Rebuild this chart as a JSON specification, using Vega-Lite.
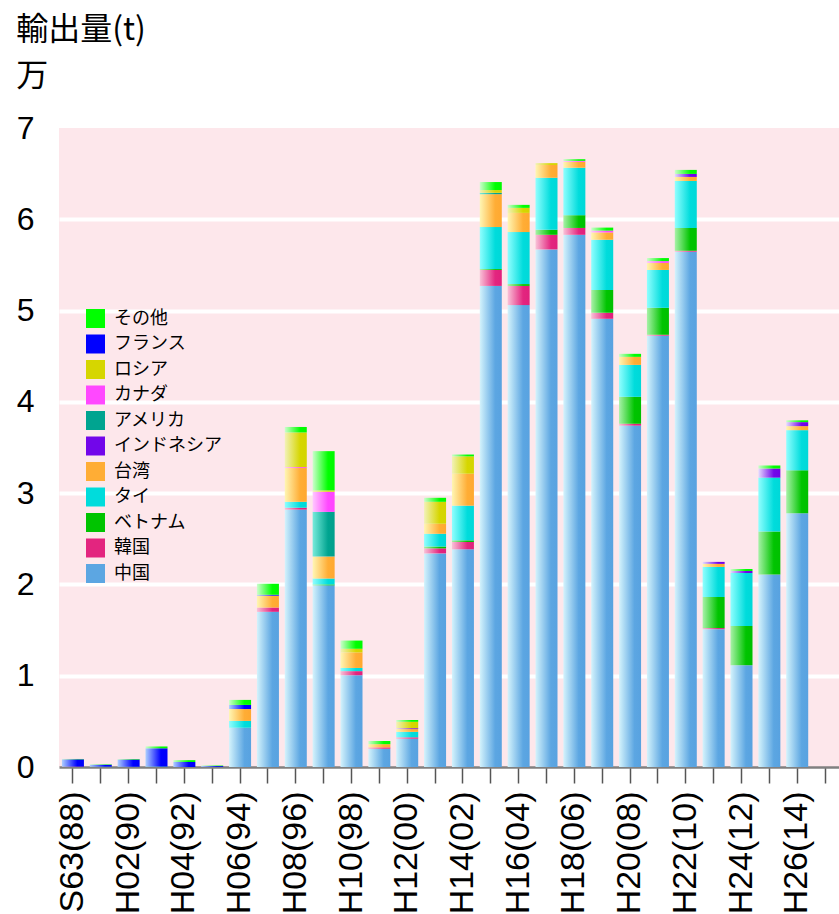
{
  "$schema": "https://vega.github.io/schema/vega-lite/v6.json",
  "width": 780,
  "height": 639,
  "autosize": "none",
  "padding": {"left": 59, "top": 128, "right": 0, "bottom": 147},
  "background": "white",
  "config": {
    "view": {"fill": "#fde7eb", "stroke": null},
    "font": "Liberation Sans"
  },
  "title": {
    "text": ["輸出量(t)", "万"],
    "anchor": "start",
    "frame": "bounds",
    "font": "Noto Sans CJK JP",
    "fontSize": 32,
    "fontWeight": "normal",
    "lineHeight": 46,
    "color": "black",
    "offset": 19
  },
  "datasets": {
    "countries": [
      {"country": "中国", "rank": 0},
      {"country": "韓国", "rank": 1},
      {"country": "ベトナム", "rank": 2},
      {"country": "タイ", "rank": 3},
      {"country": "台湾", "rank": 4},
      {"country": "インドネシア", "rank": 5},
      {"country": "アメリカ", "rank": 6},
      {"country": "カナダ", "rank": 7},
      {"country": "ロシア", "rank": 8},
      {"country": "フランス", "rank": 9},
      {"country": "その他", "rank": 10}
    ],
    "exports": [
      {"year": "S63(88)", "country": "韓国", "value": 0.004},
      {"year": "S63(88)", "country": "フランス", "value": 0.08},
      {"year": "S63(88)", "country": "その他", "value": 0.004},
      {"year": "H01(89)", "country": "タイ", "value": 0.004},
      {"year": "H01(89)", "country": "フランス", "value": 0.02},
      {"year": "H01(89)", "country": "その他", "value": 0.005},
      {"year": "H02(90)", "country": "タイ", "value": 0.003},
      {"year": "H02(90)", "country": "フランス", "value": 0.08},
      {"year": "H02(90)", "country": "その他", "value": 0.005},
      {"year": "H03(91)", "country": "タイ", "value": 0.005},
      {"year": "H03(91)", "country": "フランス", "value": 0.2},
      {"year": "H03(91)", "country": "その他", "value": 0.02},
      {"year": "H04(92)", "country": "フランス", "value": 0.055},
      {"year": "H04(92)", "country": "その他", "value": 0.02},
      {"year": "H05(93)", "country": "フランス", "value": 0.01},
      {"year": "H05(93)", "country": "その他", "value": 0.006},
      {"year": "H06(94)", "country": "中国", "value": 0.43},
      {"year": "H06(94)", "country": "タイ", "value": 0.075},
      {"year": "H06(94)", "country": "台湾", "value": 0.13},
      {"year": "H06(94)", "country": "フランス", "value": 0.045},
      {"year": "H06(94)", "country": "その他", "value": 0.055},
      {"year": "H07(95)", "country": "中国", "value": 1.7},
      {"year": "H07(95)", "country": "韓国", "value": 0.047},
      {"year": "H07(95)", "country": "台湾", "value": 0.13},
      {"year": "H07(95)", "country": "フランス", "value": 0.01},
      {"year": "H07(95)", "country": "その他", "value": 0.12},
      {"year": "H08(96)", "country": "中国", "value": 2.82},
      {"year": "H08(96)", "country": "韓国", "value": 0.02},
      {"year": "H08(96)", "country": "タイ", "value": 0.065},
      {"year": "H08(96)", "country": "台湾", "value": 0.37},
      {"year": "H08(96)", "country": "カナダ", "value": 0.01},
      {"year": "H08(96)", "country": "ロシア", "value": 0.38},
      {"year": "H08(96)", "country": "その他", "value": 0.06},
      {"year": "H09(97)", "country": "中国", "value": 1.99},
      {"year": "H09(97)", "country": "ベトナム", "value": 0.01},
      {"year": "H09(97)", "country": "タイ", "value": 0.065},
      {"year": "H09(97)", "country": "台湾", "value": 0.24},
      {"year": "H09(97)", "country": "アメリカ", "value": 0.49},
      {"year": "H09(97)", "country": "カナダ", "value": 0.22},
      {"year": "H09(97)", "country": "ロシア", "value": 0.015},
      {"year": "H09(97)", "country": "その他", "value": 0.43},
      {"year": "H10(98)", "country": "中国", "value": 1.005},
      {"year": "H10(98)", "country": "韓国", "value": 0.045},
      {"year": "H10(98)", "country": "タイ", "value": 0.035},
      {"year": "H10(98)", "country": "台湾", "value": 0.17},
      {"year": "H10(98)", "country": "ロシア", "value": 0.04},
      {"year": "H10(98)", "country": "その他", "value": 0.09},
      {"year": "H11(99)", "country": "中国", "value": 0.2},
      {"year": "H11(99)", "country": "韓国", "value": 0.015},
      {"year": "H11(99)", "country": "台湾", "value": 0.035},
      {"year": "H11(99)", "country": "その他", "value": 0.035},
      {"year": "H12(00)", "country": "中国", "value": 0.31},
      {"year": "H12(00)", "country": "韓国", "value": 0.015},
      {"year": "H12(00)", "country": "タイ", "value": 0.06},
      {"year": "H12(00)", "country": "台湾", "value": 0.03},
      {"year": "H12(00)", "country": "インドネシア", "value": 0.01},
      {"year": "H12(00)", "country": "ロシア", "value": 0.07},
      {"year": "H12(00)", "country": "その他", "value": 0.02},
      {"year": "H13(01)", "country": "中国", "value": 2.34},
      {"year": "H13(01)", "country": "韓国", "value": 0.055},
      {"year": "H13(01)", "country": "ベトナム", "value": 0.02},
      {"year": "H13(01)", "country": "タイ", "value": 0.14},
      {"year": "H13(01)", "country": "台湾", "value": 0.11},
      {"year": "H13(01)", "country": "ロシア", "value": 0.24},
      {"year": "H13(01)", "country": "その他", "value": 0.044},
      {"year": "H14(02)", "country": "中国", "value": 2.385},
      {"year": "H14(02)", "country": "韓国", "value": 0.08},
      {"year": "H14(02)", "country": "ベトナム", "value": 0.018},
      {"year": "H14(02)", "country": "タイ", "value": 0.38},
      {"year": "H14(02)", "country": "台湾", "value": 0.35},
      {"year": "H14(02)", "country": "ロシア", "value": 0.19},
      {"year": "H14(02)", "country": "その他", "value": 0.02},
      {"year": "H15(03)", "country": "中国", "value": 5.27},
      {"year": "H15(03)", "country": "韓国", "value": 0.175},
      {"year": "H15(03)", "country": "ベトナム", "value": 0.01},
      {"year": "H15(03)", "country": "タイ", "value": 0.46},
      {"year": "H15(03)", "country": "台湾", "value": 0.36},
      {"year": "H15(03)", "country": "アメリカ", "value": 0.015},
      {"year": "H15(03)", "country": "ロシア", "value": 0.03},
      {"year": "H15(03)", "country": "その他", "value": 0.088},
      {"year": "H16(04)", "country": "中国", "value": 5.06},
      {"year": "H16(04)", "country": "韓国", "value": 0.21},
      {"year": "H16(04)", "country": "ベトナム", "value": 0.02},
      {"year": "H16(04)", "country": "タイ", "value": 0.57},
      {"year": "H16(04)", "country": "台湾", "value": 0.21},
      {"year": "H16(04)", "country": "ロシア", "value": 0.055},
      {"year": "H16(04)", "country": "その他", "value": 0.033},
      {"year": "H17(05)", "country": "中国", "value": 5.67},
      {"year": "H17(05)", "country": "韓国", "value": 0.16},
      {"year": "H17(05)", "country": "ベトナム", "value": 0.055},
      {"year": "H17(05)", "country": "タイ", "value": 0.57},
      {"year": "H17(05)", "country": "台湾", "value": 0.14},
      {"year": "H17(05)", "country": "ロシア", "value": 0.02},
      {"year": "H18(06)", "country": "中国", "value": 5.83},
      {"year": "H18(06)", "country": "韓国", "value": 0.075},
      {"year": "H18(06)", "country": "ベトナム", "value": 0.14},
      {"year": "H18(06)", "country": "タイ", "value": 0.52},
      {"year": "H18(06)", "country": "台湾", "value": 0.065},
      {"year": "H18(06)", "country": "カナダ", "value": 0.01},
      {"year": "H18(06)", "country": "その他", "value": 0.018},
      {"year": "H19(07)", "country": "中国", "value": 4.91},
      {"year": "H19(07)", "country": "韓国", "value": 0.066},
      {"year": "H19(07)", "country": "ベトナム", "value": 0.25},
      {"year": "H19(07)", "country": "タイ", "value": 0.55},
      {"year": "H19(07)", "country": "台湾", "value": 0.08},
      {"year": "H19(07)", "country": "カナダ", "value": 0.02},
      {"year": "H19(07)", "country": "その他", "value": 0.033},
      {"year": "H20(08)", "country": "中国", "value": 3.74},
      {"year": "H20(08)", "country": "韓国", "value": 0.02},
      {"year": "H20(08)", "country": "ベトナム", "value": 0.295},
      {"year": "H20(08)", "country": "タイ", "value": 0.35},
      {"year": "H20(08)", "country": "台湾", "value": 0.088},
      {"year": "H20(08)", "country": "その他", "value": 0.033},
      {"year": "H21(09)", "country": "中国", "value": 4.725},
      {"year": "H21(09)", "country": "韓国", "value": 0.01},
      {"year": "H21(09)", "country": "ベトナム", "value": 0.295},
      {"year": "H21(09)", "country": "タイ", "value": 0.415},
      {"year": "H21(09)", "country": "台湾", "value": 0.077},
      {"year": "H21(09)", "country": "カナダ", "value": 0.02},
      {"year": "H21(09)", "country": "その他", "value": 0.033},
      {"year": "H22(10)", "country": "中国", "value": 5.645},
      {"year": "H22(10)", "country": "韓国", "value": 0.01},
      {"year": "H22(10)", "country": "ベトナム", "value": 0.25},
      {"year": "H22(10)", "country": "タイ", "value": 0.515},
      {"year": "H22(10)", "country": "台湾", "value": 0.044},
      {"year": "H22(10)", "country": "インドネシア", "value": 0.033},
      {"year": "H22(10)", "country": "その他", "value": 0.044},
      {"year": "H23(11)", "country": "中国", "value": 1.51},
      {"year": "H23(11)", "country": "韓国", "value": 0.012},
      {"year": "H23(11)", "country": "ベトナム", "value": 0.34},
      {"year": "H23(11)", "country": "タイ", "value": 0.33},
      {"year": "H23(11)", "country": "台湾", "value": 0.033},
      {"year": "H23(11)", "country": "インドネシア", "value": 0.022},
      {"year": "H24(12)", "country": "中国", "value": 1.115},
      {"year": "H24(12)", "country": "ベトナム", "value": 0.43},
      {"year": "H24(12)", "country": "タイ", "value": 0.58},
      {"year": "H24(12)", "country": "インドネシア", "value": 0.022},
      {"year": "H24(12)", "country": "その他", "value": 0.022},
      {"year": "H25(13)", "country": "中国", "value": 2.11},
      {"year": "H25(13)", "country": "ベトナム", "value": 0.47},
      {"year": "H25(13)", "country": "タイ", "value": 0.59},
      {"year": "H25(13)", "country": "インドネシア", "value": 0.1},
      {"year": "H25(13)", "country": "その他", "value": 0.033},
      {"year": "H26(14)", "country": "中国", "value": 2.78},
      {"year": "H26(14)", "country": "ベトナム", "value": 0.47},
      {"year": "H26(14)", "country": "タイ", "value": 0.44},
      {"year": "H26(14)", "country": "台湾", "value": 0.044},
      {"year": "H26(14)", "country": "インドネシア", "value": 0.044},
      {"year": "H26(14)", "country": "その他", "value": 0.02}
    ]
  },
  "data": {"name": "exports"},
  "transform": [
    {"lookup": "country", "from": {"data": {"name": "countries"}, "key": "country", "fields": ["rank"]}}
  ],
  "mark": {"type": "bar"},
  "encoding": {
    "x": {
      "field": "year",
      "type": "nominal",
      "sort": null,
      "scale": {
        "domain": ["S63(88)","H01(89)","H02(90)","H03(91)","H04(92)","H05(93)","H06(94)","H07(95)","H08(96)","H09(97)","H10(98)","H11(99)","H12(00)","H13(01)","H14(02)","H15(03)","H16(04)","H17(05)","H18(06)","H19(07)","H20(08)","H21(09)","H22(10)","H23(11)","H24(12)","H25(13)","H26(14)","H27(15)"],
        "paddingInner": 0.21,
        "paddingOuter": 0.105
      },
      "axis": {
        "title": null,
        "labelExpr": "indexof('13579', slice(datum.label, 5, 6)) >= 0 ? '' : datum.label",
        "labelAngle": 270,
        "labelFontSize": 34,
        "labelFont": "Liberation Sans",
        "labelColor": "black",
        "labelPadding": 8,
        "labelOverlap": false,
        "domainColor": "#808080",
        "domainWidth": 2.5,
        "tickColor": "#555555",
        "tickWidth": 1.5,
        "tickSize": 16,
        "grid": false
      }
    },
    "y": {
      "field": "value",
      "type": "quantitative",
      "stack": "zero",
      "scale": {"domain": [0, 7], "nice": false},
      "axis": {
        "title": null,
        "values": [0, 1, 2, 3, 4, 5, 6, 7],
        "labelFontSize": 32,
        "labelFont": "Liberation Sans",
        "labelColor": "black",
        "labelPadding": 25,
        "domain": false,
        "ticks": false,
        "grid": true,
        "gridColor": {"condition": {"test": "datum.value === 7 || datum.value === 0", "value": "transparent"}, "value": "white"},
        "gridWidth": 4,
        "gridOpacity": 1
      }
    },
    "order": {"field": "rank", "type": "quantitative", "sort": "ascending"},
    "color": {
      "field": "country",
      "type": "nominal",
      "condition": [
        {"test": "datum.country === '中国'", "value": {"gradient": "linear", "x1": 0, "y1": 0, "x2": 1, "y2": 0, "stops": [{"offset": 0, "color": "#d4f3fc"}, {"offset": 0.7, "color": "#5ca6e2"}, {"offset": 1, "color": "#58a2e0"}]}},
        {"test": "datum.country === '韓国'", "value": {"gradient": "linear", "x1": 0, "y1": 0, "x2": 1, "y2": 0, "stops": [{"offset": 0, "color": "#f9c2d8"}, {"offset": 0.7, "color": "#e3257f"}, {"offset": 1, "color": "#e0207c"}]}},
        {"test": "datum.country === 'ベトナム'", "value": {"gradient": "linear", "x1": 0, "y1": 0, "x2": 1, "y2": 0, "stops": [{"offset": 0, "color": "#a8f2a8"}, {"offset": 0.7, "color": "#00c400"}, {"offset": 1, "color": "#00c000"}]}},
        {"test": "datum.country === 'タイ'", "value": {"gradient": "linear", "x1": 0, "y1": 0, "x2": 1, "y2": 0, "stops": [{"offset": 0, "color": "#90ffff"}, {"offset": 0.7, "color": "#00dcdc"}, {"offset": 1, "color": "#00d8d8"}]}},
        {"test": "datum.country === '台湾'", "value": {"gradient": "linear", "x1": 0, "y1": 0, "x2": 1, "y2": 0, "stops": [{"offset": 0, "color": "#fff6b4"}, {"offset": 0.7, "color": "#ffad35"}, {"offset": 1, "color": "#ffa830"}]}},
        {"test": "datum.country === 'インドネシア'", "value": {"gradient": "linear", "x1": 0, "y1": 0, "x2": 1, "y2": 0, "stops": [{"offset": 0, "color": "#e6dcff"}, {"offset": 0.7, "color": "#7206ea"}, {"offset": 1, "color": "#7000e6"}]}},
        {"test": "datum.country === 'アメリカ'", "value": {"gradient": "linear", "x1": 0, "y1": 0, "x2": 1, "y2": 0, "stops": [{"offset": 0, "color": "#78ebdb"}, {"offset": 0.7, "color": "#00a490"}, {"offset": 1, "color": "#00a08c"}]}},
        {"test": "datum.country === 'カナダ'", "value": {"gradient": "linear", "x1": 0, "y1": 0, "x2": 1, "y2": 0, "stops": [{"offset": 0, "color": "#ffc8ff"}, {"offset": 0.7, "color": "#ff48ff"}, {"offset": 1, "color": "#ff44ff"}]}},
        {"test": "datum.country === 'ロシア'", "value": {"gradient": "linear", "x1": 0, "y1": 0, "x2": 1, "y2": 0, "stops": [{"offset": 0, "color": "#f2f2b8"}, {"offset": 0.7, "color": "#d6d600"}, {"offset": 1, "color": "#d4d400"}]}},
        {"test": "datum.country === 'フランス'", "value": {"gradient": "linear", "x1": 0, "y1": 0, "x2": 1, "y2": 0, "stops": [{"offset": 0, "color": "#aed0ff"}, {"offset": 0.7, "color": "#0000ff"}, {"offset": 1, "color": "#0000f8"}]}},
        {"test": "datum.country === 'その他'", "value": {"gradient": "linear", "x1": 0, "y1": 0, "x2": 1, "y2": 0, "stops": [{"offset": 0, "color": "#ccffcc"}, {"offset": 0.7, "color": "#00ff00"}, {"offset": 1, "color": "#00f800"}]}}
      ],
      "scale": {
        "domain": ["中国", "韓国", "ベトナム", "タイ", "台湾", "インドネシア", "アメリカ", "カナダ", "ロシア", "フランス", "その他"],
        "range": ["#5ca6e2", "#e3257f", "#00c400", "#00dcdc", "#ffad35", "#7206ea", "#00a490", "#ff48ff", "#d6d600", "#0000ff", "#00ff00"]
      },
      "legend": {
        "title": null,
        "values": ["その他", "フランス", "ロシア", "カナダ", "アメリカ", "インドネシア", "台湾", "タイ", "ベトナム", "韓国", "中国"],
        "orient": "none",
        "legendX": 27,
        "legendY": 181,
        "padding": 0,
        "symbolType": "square",
        "symbolSize": 361,
        "symbolStrokeWidth": 0,
        "symbolOpacity": 1,
        "labelFont": "Noto Sans CJK JP",
        "labelFontSize": 18,
        "labelColor": "black",
        "labelOffset": 9,
        "rowPadding": 6.5,
        "encode": {
          "symbols": {
            "update": {
              "fill": [
                {"test": "datum.value === '中国'", "value": {"gradient": "linear", "x1": 0, "y1": 0, "x2": 1, "y2": 0, "stops": [{"offset": 0, "color": "#d4f3fc"}, {"offset": 0.7, "color": "#5ca6e2"}, {"offset": 1, "color": "#58a2e0"}]}},
                {"test": "datum.value === '韓国'", "value": {"gradient": "linear", "x1": 0, "y1": 0, "x2": 1, "y2": 0, "stops": [{"offset": 0, "color": "#f9c2d8"}, {"offset": 0.7, "color": "#e3257f"}, {"offset": 1, "color": "#e0207c"}]}},
                {"test": "datum.value === 'ベトナム'", "value": {"gradient": "linear", "x1": 0, "y1": 0, "x2": 1, "y2": 0, "stops": [{"offset": 0, "color": "#a8f2a8"}, {"offset": 0.7, "color": "#00c400"}, {"offset": 1, "color": "#00c000"}]}},
                {"test": "datum.value === 'タイ'", "value": {"gradient": "linear", "x1": 0, "y1": 0, "x2": 1, "y2": 0, "stops": [{"offset": 0, "color": "#90ffff"}, {"offset": 0.7, "color": "#00dcdc"}, {"offset": 1, "color": "#00d8d8"}]}},
                {"test": "datum.value === '台湾'", "value": {"gradient": "linear", "x1": 0, "y1": 0, "x2": 1, "y2": 0, "stops": [{"offset": 0, "color": "#fff6b4"}, {"offset": 0.7, "color": "#ffad35"}, {"offset": 1, "color": "#ffa830"}]}},
                {"test": "datum.value === 'インドネシア'", "value": {"gradient": "linear", "x1": 0, "y1": 0, "x2": 1, "y2": 0, "stops": [{"offset": 0, "color": "#e6dcff"}, {"offset": 0.7, "color": "#7206ea"}, {"offset": 1, "color": "#7000e6"}]}},
                {"test": "datum.value === 'アメリカ'", "value": {"gradient": "linear", "x1": 0, "y1": 0, "x2": 1, "y2": 0, "stops": [{"offset": 0, "color": "#78ebdb"}, {"offset": 0.7, "color": "#00a490"}, {"offset": 1, "color": "#00a08c"}]}},
                {"test": "datum.value === 'カナダ'", "value": {"gradient": "linear", "x1": 0, "y1": 0, "x2": 1, "y2": 0, "stops": [{"offset": 0, "color": "#ffc8ff"}, {"offset": 0.7, "color": "#ff48ff"}, {"offset": 1, "color": "#ff44ff"}]}},
                {"test": "datum.value === 'ロシア'", "value": {"gradient": "linear", "x1": 0, "y1": 0, "x2": 1, "y2": 0, "stops": [{"offset": 0, "color": "#f2f2b8"}, {"offset": 0.7, "color": "#d6d600"}, {"offset": 1, "color": "#d4d400"}]}},
                {"test": "datum.value === 'フランス'", "value": {"gradient": "linear", "x1": 0, "y1": 0, "x2": 1, "y2": 0, "stops": [{"offset": 0, "color": "#aed0ff"}, {"offset": 0.7, "color": "#0000ff"}, {"offset": 1, "color": "#0000f8"}]}},
                {"value": {"gradient": "linear", "x1": 0, "y1": 0, "x2": 1, "y2": 0, "stops": [{"offset": 0, "color": "#ccffcc"}, {"offset": 0.7, "color": "#00ff00"}, {"offset": 1, "color": "#00f800"}]}}
              ]
            }
          }
        }
      }
    }
  }
}
